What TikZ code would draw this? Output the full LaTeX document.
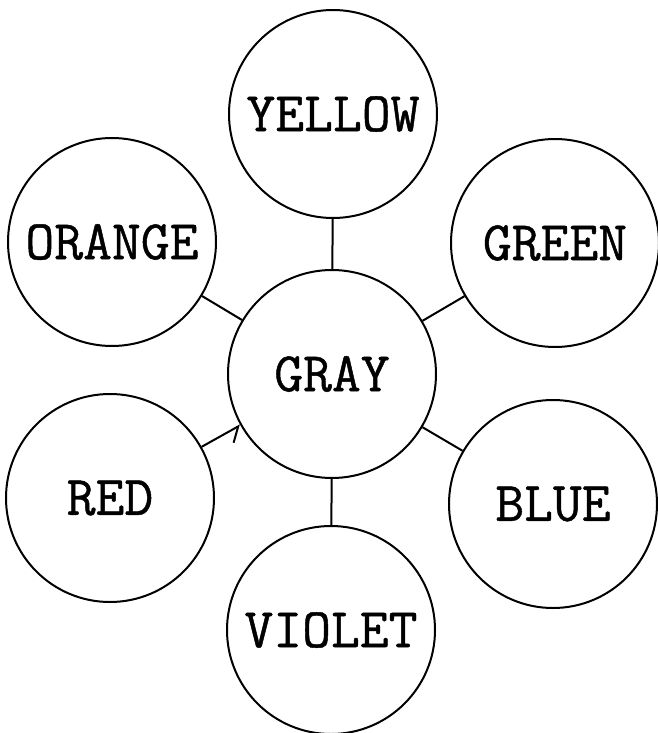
\documentclass[tikz,border=0pt]{standalone}
\usepackage{fontspec}
\newfontfamily\lettering[FakeBold=0.8]{Latin Modern Mono}
\usetikzlibrary{arrows.meta}
\tikzset{
  bubble/.style={circle, draw, line width=1pt, minimum size=104pt, inner sep=0pt,
    font=\lettering\fontsize{28}{32}\selectfont},
  spoke/.style={line width=1pt}
}

\begin{document}
\begin{tikzpicture}[x=0.5pt, y=-0.5pt]
\useasboundingbox (0,0) rectangle (658,733);

%%%%%%%%%%
% Circles
%%%%%%%%%%
\node[bubble] (gray) at (332,374) {GRAY};
\foreach \name/\px/\py/\lab in {
yellow/333/114/YELLOW,
orange/112/242/ORANGE,
green/555/243/GREEN,
red/110/498/RED,
blue/553/504/BLUE,
violet/331/630/VIOLET
} {
\node[bubble] (\name) at (\px,\py) {\lab};
}

%%%%%%%%%%
% Spokes
%%%%%%%%%%
\foreach \name in {yellow,orange,green,blue,violet} {
\draw[spoke] (gray) -- (\name);
}
% red one carries a small barb
\draw[spoke, -{Straight Barb[right, length=6pt, width=12pt]}] (red) -- (gray);

\end{tikzpicture}
\end{document}
